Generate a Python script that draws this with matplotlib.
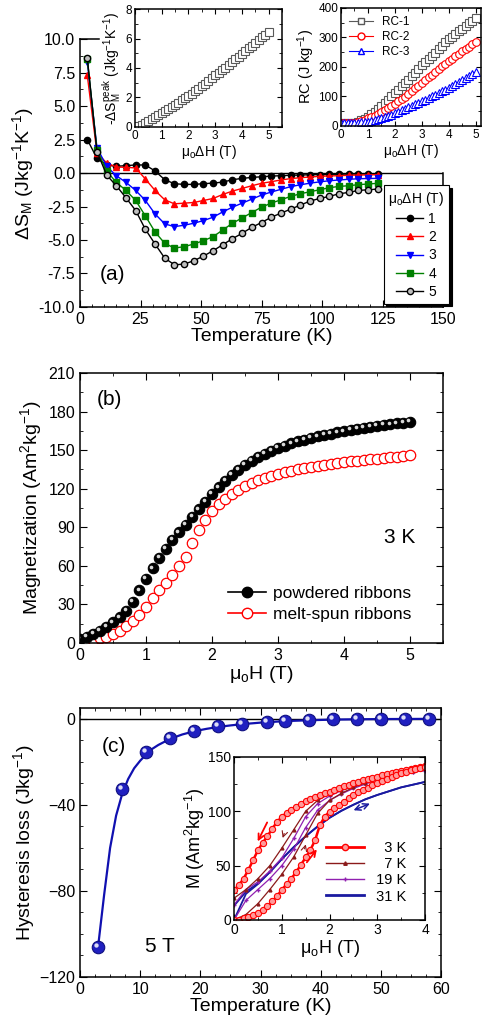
import numpy as np
import matplotlib
matplotlib.use('Agg')
import matplotlib.pyplot as plt
import matplotlib.transforms as mtransforms
from matplotlib.lines import Line2D
from matplotlib.ticker import MultipleLocator

# ---- panel (a): entropy change vs temperature ----
T_a = [3 + 4 * k for k in range(31)]
dS_1T = [2.5, 1.1, 0.6, 0.5, 0.55, 0.6, 0.6, 0.15, -0.5, -0.8, -0.85, -0.85, -0.8, -0.75, -0.68,
         -0.5, -0.4, -0.33, -0.28, -0.23, -0.2, -0.17, -0.15, -0.13, -0.12, -0.1, -0.09, -0.08,
         -0.07, -0.06, -0.05]
dS_2T = [7.3, 1.5, 0.75, 0.45, 0.42, 0.38, -0.45, -1.3, -2.0, -2.3, -2.25, -2.2, -2.05, -1.9, -1.6,
         -1.35, -1.15, -0.95, -0.77, -0.65, -0.52, -0.42, -0.35, -0.3, -0.25, -0.22, -0.2, -0.17,
         -0.15, -0.14, -0.12]
dS_3T = [8.3, 1.9, 0.5, -0.2, -0.7, -1.3, -2.05, -3.05, -3.8, -4.0, -3.9, -3.75, -3.55, -3.3, -2.9,
         -2.55, -2.25, -1.95, -1.65, -1.42, -1.22, -1.02, -0.88, -0.76, -0.66, -0.58, -0.52, -0.47,
         -0.43, -0.41, -0.4]
dS_4T = [8.5, 1.75, 0.15, -0.7, -1.3, -2.05, -3.2, -4.4, -5.25, -5.6, -5.5, -5.3, -5.05, -4.75, -4.25,
         -3.75, -3.35, -2.95, -2.55, -2.25, -2.0, -1.75, -1.55, -1.4, -1.25, -1.1, -1.0, -0.95,
         -0.87, -0.82, -0.77]
dS_5T = [8.6, 1.6, -0.15, -0.95, -1.85, -2.8, -4.2, -5.3, -6.35, -6.85, -6.8, -6.55, -6.2, -5.8, -5.35,
         -4.9, -4.5, -4.05, -3.7, -3.3, -3.0, -2.7, -2.4, -2.1, -1.9, -1.75, -1.55, -1.45, -1.3,
         -1.25, -1.2]

# insets of (a)
H_in = [0.125 * k for k in range(41)]
dS_peak = [0, 0.06, 0.15, 0.27, 0.4, 0.53, 0.67, 0.82, 0.98, 1.1, 1.23, 1.36, 1.5, 1.65, 1.8, 1.95,
           2.1, 2.26, 2.42, 2.58, 2.75, 2.93, 3.12, 3.31, 3.5, 3.68, 3.85, 4.02, 4.2, 4.39, 4.58,
           4.77, 4.95, 5.14, 5.33, 5.52, 5.7, 5.89, 6.08, 6.27, 6.45]
RC1 = [9, 9, 9.5, 10, 11, 14, 19, 25, 32, 40, 48, 57, 66, 77, 88, 100, 112, 123, 134, 146, 157, 169,
       181, 193, 205, 216, 227, 238, 249, 260, 271, 283, 294, 303, 312, 321, 330, 339, 348, 357, 366]
RC2 = [9, 9, 9, 10, 11, 13, 17, 21, 26, 30, 35, 40, 46, 53, 60, 67, 75, 83, 91, 99.5, 108, 117, 127,
       136.5, 146, 155, 165, 174, 183, 192, 202, 211, 220, 228, 236, 245, 253, 261, 269, 277, 285]
RC3 = [9, 9, 9, 9, 9, 10, 12, 13, 15, 17.5, 20, 23, 26, 30, 34, 38.5, 43, 48, 53, 58.5, 64, 68.5, 73.5,
       78, 83, 88.5, 94, 100, 106, 111.5, 117, 123, 129, 135.5, 142, 148.5, 155, 161.5, 168.5, 175, 182]

# ---- panel (b): magnetization at 3 K ----
H_b = [0.1 * k for k in range(51)]
M_powder = [3, 5, 7, 9.5, 12.5, 16, 20, 25, 32, 41, 50, 58, 66, 73, 80, 86, 92, 98, 104, 110,
            116, 121, 126, 130.5, 134.5, 138.5, 141.5, 144.5, 147, 149.5, 151.5, 153.5, 155.2, 156.8,
            158.2, 159.5, 160.7, 161.8, 162.8, 163.8, 164.7, 165.6, 166.4, 167.2, 168, 168.7, 169.4,
            170.1, 170.7, 171.3, 172]
M_ribbon = [1, 1.5, 2.5, 3.5, 5, 7, 9.5, 13, 17, 22, 28, 35, 41, 47, 53, 60, 67, 78, 88, 96,
            103, 108, 112, 115.5, 119, 122, 124.5, 126.5, 128.5, 130, 131.5, 133, 134, 135, 136, 137,
            137.8, 138.6, 139.3, 140, 140.7, 141.3, 141.9, 142.4, 142.9, 143.4, 143.9, 144.4, 144.9,
            145.4, 146]

# ---- panel (c): hysteresis loss ----
T_c = [3, 7, 11, 15, 19, 23, 27, 31, 34, 38, 42, 46, 50, 54, 58]
loss = [-106, -32.5, -15.3, -9.1, -5.7, -3.4, -2.3, -1.4, -0.9, -0.5, -0.3, -0.2, -0.1, -0.1, -0.1]
T_fit = [3, 4, 5, 6, 7, 8, 9, 10, 11, 12, 13, 15, 17, 19, 21, 23, 25, 27, 30, 34, 38, 42, 46, 50, 54, 58]
loss_fit = [-106, -82, -60, -45, -35, -28, -23, -19.5, -16.5, -14, -12.2, -9.3, -7.3, -5.8, -4.7, -3.8,
            -3.1, -2.5, -1.8, -1.1, -0.7, -0.4, -0.25, -0.15, -0.1, -0.05]

# inset of (c): M(H) loops
H_3K = [0.1 * k for k in range(41)]
M3_down = [27.5, 32, 38, 46, 55, 64, 71, 77, 84, 90, 95, 98.5, 101.5, 104, 106.5, 109, 111, 113, 115,
           116.5, 118, 119.8, 121.4, 123, 124.5, 126, 127.3, 128.6, 129.8, 131, 132, 133.1, 134.2,
           135.2, 136.2, 137.2, 138.1, 139, 139.8, 140.6, 141.4]
M3_up = [0, 0, 1.5, 3, 4.6, 6.5, 9, 12.5, 17, 22, 27.6, 33, 38, 44, 50.6, 57.5, 64.4, 73.6, 87.4, 95,
         99.7, 102.8, 105.6, 108.5, 111.8, 115, 117.3, 119.5, 121.7, 123.8, 125.8, 127.7, 129.6,
         131.4, 133.2, 135, 136.3, 137.6, 138.8, 140, 141]
H_loop = [0.25 * k for k in range(17)]
M7_down = [20, 28, 38, 50, 66, 83, 100, 110, 116, 120, 124, 127.5, 131, 133.5, 136, 138, 140]
M7_up = [0, 5, 15, 28, 42, 58, 78, 98, 110, 116.5, 122, 126, 130, 133, 135.5, 137.5, 139.5]
M19_down = [14, 28, 35, 45, 57, 75, 95, 107, 114, 119, 123, 126.5, 130, 132.5, 135, 136.5, 138]
M19_up = [0, 18, 28, 38, 50, 65, 85, 101, 110, 116, 121, 125, 129, 131.5, 134, 136, 137.5]
M31_down = [13, 26, 33.5, 44, 56, 67, 77, 86, 94, 100.5, 106, 111, 115, 118.5, 122, 124.5, 127]
M31_up = [0, 24, 33, 44, 56, 67, 77, 86, 94, 100.5, 106, 111, 115, 118.5, 122, 124.5, 127]
# arrows (start, end) in inset data coords
red_arrows = [((0.72, 92), (0.47, 70)), ((1.49, 51), (1.77, 67))]
brown_arrows = [((1.07, 82), (1.0, 73)), ((1.46, 63), (1.52, 72))]
blue_arrow = ((2.45, 100), (2.9, 108))

plt.rcParams['font.family'] = ['Liberation Sans', 'DejaVu Sans']
plt.rcParams['mathtext.default'] = 'regular'
plt.rcParams['xtick.direction'] = 'in'
plt.rcParams['ytick.direction'] = 'in'
plt.rcParams['axes.linewidth'] = 1.1
plt.rcParams['xtick.major.size'] = 5
plt.rcParams['ytick.major.size'] = 5
plt.rcParams['xtick.minor.size'] = 2.5
plt.rcParams['ytick.minor.size'] = 2.5

fig = plt.figure(figsize=(4.87, 10.24), dpi=100)


def balls(ax, x, y, color, edge, ms, zorder=3):
    ax.plot(x, y, 'o', color=color, mec=edge, ms=ms, mew=0.8, zorder=zorder)
    off = mtransforms.ScaledTranslation(-ms * 0.16 / 72, ms * 0.16 / 72, fig.dpi_scale_trans)
    ax.plot(x, y, 'o', color='white', ms=ms * 0.35, mec='none', alpha=0.85,
            transform=ax.transData + off, zorder=zorder + 0.1)


# ================= (a) =================
axA = fig.add_axes([0.1643, 0.7002, 0.7454, 0.2617])
axA.axhline(0, color='k', lw=1)
styles = [('k', 'o', 'k', '1'), ('red', '^', 'red', '2'), ('blue', 'v', 'blue', '3'),
          ('green', 's', 'green', '4')]
for (c, m, fc, lab), d in zip(styles, [dS_1T, dS_2T, dS_3T, dS_4T]):
    axA.plot(T_a, d, color=c, marker=m, mfc=fc, mec=c, ms=4.5, lw=1, label=lab)
axA.plot(T_a, dS_5T, color='k', marker='o', mfc='0.75', mec='k', ms=4.5, lw=1, label='5')
axA.set_xlim(0, 150)
axA.set_ylim(-10, 10)
axA.xaxis.set_major_locator(MultipleLocator(25))
axA.xaxis.set_minor_locator(MultipleLocator(5))
axA.yaxis.set_major_locator(MultipleLocator(2.5))
axA.yaxis.set_minor_locator(MultipleLocator(1.25))
axA.yaxis.set_major_formatter(plt.FormatStrFormatter('%.1f'))
axA.tick_params(labelsize=11.5)
axA.tick_params(which='both', right=False, top=False)
axA.spines['right'].set_bounds(-10, 0)
axA.spines['top'].set_bounds(0, 8)
axA.set_xlabel('Temperature (K)', fontsize=14, labelpad=1)
axA.set_ylabel('ΔS$_M$ (Jkg$^{-1}$K$^{-1}$)', fontsize=14, labelpad=2)
axA.text(8, -7.6, '(a)', fontsize=15, va='center')
leg = axA.legend(title='μ$_o$ΔH (T)', loc='upper right', bbox_to_anchor=(1.017, 0.455),
                 fontsize=10, title_fontsize=10, handlelength=1.9, borderaxespad=0,
                 labelspacing=0.3, borderpad=0.35, handletextpad=0.4,
                 fancybox=False, edgecolor='k', framealpha=1,
                 shadow={'facecolor': 'k', 'edgecolor': 'k', 'alpha': 1})
leg.get_frame().set_linewidth(0.8)

# left inset
axI1 = fig.add_axes([0.2772, 0.876, 0.3018, 0.1152])
axI1.plot(H_in, dS_peak, 's', mfc='white', mec='0.35', ms=5.5, mew=0.8)
axI1.set_xlim(0, 5.5)
axI1.set_ylim(0, 8)
axI1.xaxis.set_major_locator(MultipleLocator(1))
axI1.xaxis.set_minor_locator(MultipleLocator(0.5))
axI1.yaxis.set_major_locator(MultipleLocator(2))
axI1.yaxis.set_minor_locator(MultipleLocator(1))
axI1.tick_params(which='both', labelsize=8.5, top=True, right=True, pad=2)
axI1.tick_params(which='major', length=3.5)
axI1.tick_params(which='minor', length=2)
axI1.set_xlabel('μ$_o$ΔH (T)', fontsize=10, labelpad=1)
axI1.set_ylabel('-ΔS$_M^{peak}$ (Jkg$^{-1}$K$^{-1}$)', fontsize=10, labelpad=1)

# right inset
axI2 = fig.add_axes([0.7002, 0.877, 0.2875, 0.1152])
axI2.plot(H_in, RC1, 's-', color='0.35', mfc='white', ms=5.5, mew=0.8, lw=0, label='RC-1')
axI2.plot(H_in, RC2, 'o-', color='red', mfc='white', ms=5.5, mew=0.8, lw=0, label='RC-2')
axI2.plot(H_in, RC3, '^-', color='blue', mfc='white', ms=5.5, mew=0.8, lw=0, label='RC-3')
axI2.set_xlim(0, 5.2)
axI2.set_ylim(0, 400)
axI2.xaxis.set_major_locator(MultipleLocator(1))
axI2.xaxis.set_minor_locator(MultipleLocator(0.5))
axI2.yaxis.set_major_locator(MultipleLocator(100))
axI2.yaxis.set_minor_locator(MultipleLocator(50))
axI2.tick_params(which='both', labelsize=8.5, top=True, right=True, pad=2)
axI2.tick_params(which='major', length=3.5)
axI2.tick_params(which='minor', length=2)
axI2.set_xlabel('μ$_o$ΔH (T)', fontsize=10, labelpad=1)
axI2.set_ylabel('RC (J kg$^{-1}$)', fontsize=10.5, labelpad=1)
hs = [Line2D([], [], color='0.35', marker='s', mfc='white', ms=5, lw=0.8),
      Line2D([], [], color='red', marker='o', mfc='white', ms=5, lw=0.8),
      Line2D([], [], color='blue', marker='^', mfc='white', ms=5, lw=0.8)]
axI2.legend(hs, ['RC-1', 'RC-2', 'RC-3'], loc='upper left', fontsize=8.5, frameon=False,
            handlelength=2.0, labelspacing=0.25, borderaxespad=0.3)

# ================= (b) =================
axB = fig.add_axes([0.1643, 0.3721, 0.7454, 0.2637])
axB.plot(H_b, M_ribbon, 'o', mfc='white', mec='red', ms=7.5, mew=0.9)
balls(axB, H_b, M_powder, 'k', 'k', 7.5)
axB.set_xlim(0, 5.5)
axB.set_ylim(0, 210)
axB.xaxis.set_major_locator(MultipleLocator(1))
axB.xaxis.set_minor_locator(MultipleLocator(0.5))
axB.yaxis.set_major_locator(MultipleLocator(30))
axB.yaxis.set_minor_locator(MultipleLocator(15))
axB.tick_params(which='both', labelsize=11.5, top=True, right=True)
axB.set_xlabel('μ$_o$H (T)', fontsize=14, labelpad=1)
axB.set_ylabel('Magnetization (Am$^2$kg$^{-1}$)', fontsize=14, labelpad=3)
axB.text(0.26, 189, '(b)', fontsize=15, va='center')
axB.text(4.6, 82, '3 K', fontsize=15, va='center')
hb = [Line2D([], [], color='k', marker='o', ms=7.5, lw=1.2),
      Line2D([], [], color='red', marker='o', mfc='white', ms=7.5, lw=1.2)]
axB.legend(hb, ['powdered ribbons', 'melt-spun ribbons'], loc='lower right',
           bbox_to_anchor=(0.955, 0.02), fontsize=12.5, frameon=False, handlelength=2.2,
           handletextpad=0.4, labelspacing=0.35)

# ================= (c) =================
axC = fig.add_axes([0.1643, 0.0459, 0.7413, 0.2627])
axC.axhline(0, color='k', lw=1)
axC.plot(T_fit, loss_fit, color='#1010b0', lw=1.6, zorder=2)
balls(axC, T_c, loss, '#2020c0', '#101080', 9)
axC.set_xlim(0, 60)
axC.set_ylim(-120, 5)
axC.xaxis.set_major_locator(MultipleLocator(10))
axC.xaxis.set_minor_locator(MultipleLocator(2.5))
axC.yaxis.set_major_locator(MultipleLocator(40))
axC.yaxis.set_minor_locator(MultipleLocator(10))
axC.tick_params(which='both', labelsize=11.5, top=True, right=True)
axC.set_xlabel('Temperature (K)', fontsize=14, labelpad=1)
axC.set_ylabel('Hysteresis loss (Jkg$^{-1}$)', fontsize=14, labelpad=2)
axC.text(3.6, -12.9, '(c)', fontsize=15, va='center')
axC.text(10.8, -106, '5 T', fontsize=15, va='center')

# inset of (c)
axI3 = fig.add_axes([0.4805, 0.1016, 0.3922, 0.1592])
axI3.plot(H_loop, M31_down, color='#1a1aa0', lw=1.3)
axI3.plot(H_loop, M31_up, color='#1a1aa0', lw=1.3)
axI3.plot(H_loop, M19_down, color='#9020b0', lw=0.9, marker='+', ms=2.5)
axI3.plot(H_loop, M19_up, color='#9020b0', lw=0.9, marker='+', ms=2.5)
axI3.plot(H_loop, M7_down, color='#8b1a1a', lw=0.9, marker='^', ms=2)
axI3.plot(H_loop, M7_up, color='#8b1a1a', lw=0.9, marker='^', ms=2)
axI3.plot(H_3K, M3_down, color='red', lw=1.8, marker='o', mfc='#ff9a9a', mec='red', ms=4.5, mew=0.8)
axI3.plot(H_3K, M3_up, color='red', lw=1.8, marker='o', mfc='#ff9a9a', mec='red', ms=4.5, mew=0.8)
for s, e in red_arrows:
    axI3.annotate('', xy=e, xytext=s, arrowprops=dict(arrowstyle='->', color='red', lw=1.3))
for s, e in brown_arrows:
    axI3.annotate('', xy=e, xytext=s, arrowprops=dict(arrowstyle='->', color='#8b1a1a', lw=0.8))
axI3.annotate('', xy=blue_arrow[1], xytext=blue_arrow[0],
              arrowprops=dict(arrowstyle='<->', color='#1a1aa0', lw=1.1))
axI3.set_xlim(0, 4)
axI3.set_ylim(0, 150)
axI3.xaxis.set_major_locator(MultipleLocator(1))
axI3.xaxis.set_minor_locator(MultipleLocator(0.5))
axI3.yaxis.set_major_locator(MultipleLocator(50))
axI3.yaxis.set_minor_locator(MultipleLocator(25))
axI3.tick_params(which='both', labelsize=10, top=True, right=True, pad=2)
axI3.tick_params(which='major', length=4)
axI3.tick_params(which='minor', length=2)
axI3.set_xlabel('μ$_o$H (T)', fontsize=13, labelpad=1)
axI3.set_ylabel('M (Am$^2$kg$^{-1}$)', fontsize=13, labelpad=1)
hc = [Line2D([], [], color='red', lw=2, marker='o', mfc='#ff9a9a', ms=4.5),
      Line2D([], [], color='#8b1a1a', lw=1, marker='^', ms=2.5),
      Line2D([], [], color='#9020b0', lw=1, marker='+', ms=3),
      Line2D([], [], color='#1a1aa0', lw=2)]
axI3.legend(hc, ['\u2007\u20073 K', '\u2007\u20077 K', '\u200719 K', '\u200731 K'],
            loc='lower right', bbox_to_anchor=(0.97, 0.02), fontsize=10.5, frameon=False,
            handlelength=2.6, labelspacing=0.15, handletextpad=0.3)

fig.savefig('out.png', dpi=100)
